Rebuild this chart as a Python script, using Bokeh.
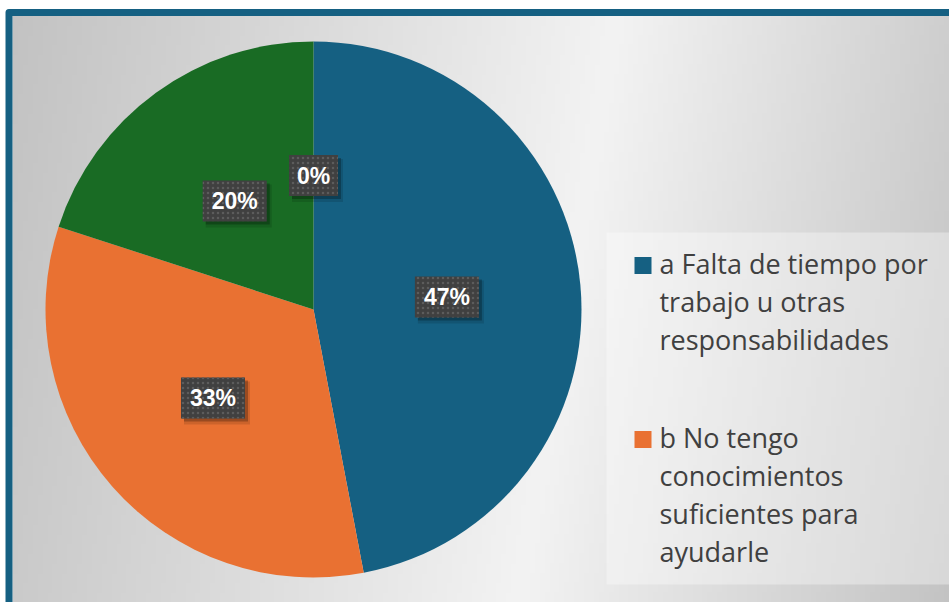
import numpy as np
from bokeh.plotting import figure
from bokeh.models import Range1d
from bokeh.core.properties import value
from bokeh.embed import file_html
from bokeh.resources import INLINE

# ---- data ----
categories = [
    "a Falta de tiempo por\ntrabajo u otras\nresponsabilidades",
    "b  No tengo\nconocimientos\nsuficientes para\nayudarle",
    "c",
    "d",
]
percentages = [47, 33, 20, 0]
colors = ["#156082", "#E97132", "#196B24", "#0F9ED5"]
legend_visible = 2

# ---- layout ----
W, H = 949, 602
CX, CY, R = 313, 309, 268


def Y(py):
    return H - py


p = figure(width=W, height=H, x_range=Range1d(0, W), y_range=Range1d(0, H),
           output_backend="svg", toolbar_location=None, min_border=0,
           x_axis_type=None, y_axis_type=None)
p.grid.visible = False
p.outline_line_color = None
p.background_fill_color = "white"
p.border_fill_color = "white"

# background gradient
nx, ny = 190, 60
xs = np.linspace(12, W, nx)
ys_data = np.linspace(0, H - 15, ny)
X, YD = np.meshgrid(xs, ys_data)
PY = H - YD
d = X - (620 - 0.166 * PY)
v = np.where(d < 0, 243 + 0.08 * d, 243 - 0.11 * d).clip(0, 255).astype(np.uint8)
img = np.zeros((ny, nx), dtype=np.uint32)
view = img.view(dtype=np.uint8).reshape((ny, nx, 4))
view[..., 0] = v
view[..., 1] = v
view[..., 2] = v
view[..., 3] = 255
p.image_rgba(image=[img], x=12, y=0, dw=W - 12, dh=H - 15)

# frame border
p.quad(left=8.5, right=W + 30, top=Y(12), bottom=-30, fill_color=None,
       line_color="#156082", line_width=7, line_join="round")

# pie
vals = np.array(percentages, dtype=float)
fr = vals / vals.sum()
cum = np.concatenate([[0.0], np.cumsum(fr)])
start = np.pi / 2 - 2 * np.pi * cum[:-1]
end = np.pi / 2 - 2 * np.pi * cum[1:]
mask = fr > 0
p.wedge(x=CX, y=Y(CY), radius=R,
        start_angle=list(start[mask]), end_angle=list(end[mask]),
        direction="clock", fill_color=[c for c, m in zip(colors, mask) if m],
        line_color=None)

# data labels
mid = (start + end) / 2
lx = CX + 0.5 * R * np.cos(mid)
ly = Y(CY) + 0.5 * R * np.sin(mid)
labels = [f"{int(x)}%" for x in percentages]
bw = [19 + 15 * len(t) for t in labels]
p.rect(x=list(lx + 4), y=list(ly - 5), width=[w + 2 for w in bw], height=43,
       fill_color="black", fill_alpha=0.12, line_color=None)
p.rect(x=list(lx + 3), y=list(ly - 3), width=bw, height=41,
       fill_color="black", fill_alpha=0.25, line_color=None)
p.rect(x=list(lx), y=list(ly), width=bw, height=41, fill_color="#404040",
       line_color=None, hatch_pattern="dot", hatch_color="#5c5c5c",
       hatch_scale=5, hatch_weight=2)
p.text(x=list(lx), y=list(ly), text=labels, text_align="center",
       text_baseline="middle", text_color="white",
       text_font=value("Liberation Sans"), text_font_style="bold",
       text_font_size="23px")

# legend box
p.quad(left=606, right=W + 30, top=Y(232), bottom=Y(584),
       fill_color="white", fill_alpha=0.35, line_color=None)

for i in range(legend_visible):
    base = 273 + 174 * i
    p.rect(x=642.5, y=Y(base - 8), width=17, height=17,
           fill_color=colors[i], line_color=None)
    lines = categories[i].split("\n")
    p.text(x=[659] * len(lines),
           y=[Y(base - 10 + 38 * j) for j in range(len(lines))],
           text=lines, text_align="left", text_baseline="alphabetic",
           text_color="#404040", text_font=value("Open Sans"),
           text_font_size="27px")

open("out.html", "w").write(file_html(p, INLINE))
